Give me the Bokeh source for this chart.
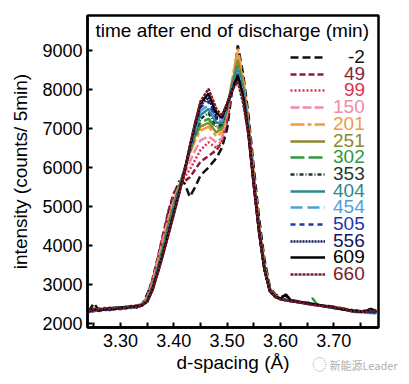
from bokeh.plotting import figure
from bokeh.models import (Range1d, FixedTicker, PrintfTickFormatter, Legend,
                          LegendItem, Label, Div)
from bokeh.layouts import column
from bokeh.embed import file_html
from bokeh.resources import INLINE

# d-spacing grid (Å)
d_spacing = [3.24, 3.25, 3.26, 3.27, 3.28, 3.29, 3.30, 3.31, 3.32, 3.33, 3.34,
             3.35, 3.36, 3.37, 3.38, 3.39, 3.40, 3.41, 3.42, 3.43, 3.44, 3.45,
             3.465,
             3.48, 3.49, 3.50, 3.51, 3.52, 3.53, 3.54, 3.55, 3.56, 3.57, 3.58, 3.59, 3.60,
             3.61, 3.62, 3.63, 3.64, 3.65, 3.66, 3.67, 3.68, 3.69, 3.70, 3.71, 3.72,
             3.73, 3.74, 3.75, 3.76, 3.77, 3.78]

times = ["-2", "49", "99", "150", "201", "251", "302", "353", "404", "454",
         "505", "556", "609", "660"]

i_m2 = [2310, 2520, 2330, 2380, 2350, 2400, 2370, 2420, 2400, 2450, 2480,
        2750, 3100, 3650, 4250, 4850, 5300, 5650, 5600, 5250, 5500, 5800,
        6000,
        6250, 6500, 7000, 8050, 9130, 8400, 7350, 6000, 4700, 3650, 2950, 2750, 2680,
        2720, 2600, 2580, 2560, 2530, 2500, 2480, 2460, 2450, 2430, 2410, 2380,
        2360, 2330, 2340, 2310, 2390, 2320]
i_49 = [2350, 2320, 2380, 2360, 2410, 2380, 2430, 2400, 2440, 2460, 2490,
        2700, 3150, 3700, 4300, 4900, 5350, 5550, 5650, 5750, 5950, 6150,
        6300,
        6450, 6650, 7200, 8100, 8900, 8250, 7150, 5800, 4500, 3500, 2900, 2720, 2640,
        2610, 2590, 2570, 2540, 2510, 2500, 2470, 2450, 2430, 2410, 2390, 2360,
        2340, 2320, 2310, 2330, 2320, 2300]
i_99 = [2320, 2360, 2340, 2390, 2350, 2410, 2390, 2420, 2430, 2470, 2500,
        2680, 3100, 3650, 4200, 4750, 5200, 5500, 5750, 5950, 6200, 6450,
        6650,
        6500, 6700, 7300, 8150, 8800, 8150, 7100, 5750, 4450, 3450, 2880, 2700, 2630,
        2600, 2590, 2560, 2550, 2520, 2490, 2480, 2450, 2440, 2420, 2380, 2370,
        2330, 2310, 2320, 2300, 2330, 2290]
i_150 = [2300, 2340, 2370, 2350, 2400, 2380, 2410, 2440, 2420, 2460, 2490,
         2650, 3050, 3600, 4150, 4700, 5150, 5550, 5850, 6150, 6450, 6700,
         6800,
         6650, 6750, 7400, 8200, 8850, 8200, 7100, 5700, 4450, 3450, 2880, 2710, 2640,
         2620, 2580, 2570, 2550, 2520, 2510, 2470, 2460, 2440, 2400, 2390, 2360,
         2340, 2320, 2300, 2320, 2310, 2300]
i_201 = [2340, 2310, 2360, 2400, 2370, 2390, 2420, 2400, 2450, 2440, 2480,
         2620, 3000, 3500, 4050, 4600, 5100, 5550, 5950, 6350, 6700, 6950,
         7050,
         6800, 6900, 7500, 8300, 9050, 8250, 7150, 5800, 4500, 3500, 2900, 2720, 2650,
         2620, 2600, 2570, 2540, 2530, 2500, 2480, 2470, 2440, 2420, 2400, 2370,
         2350, 2330, 2320, 2340, 2330, 2310]
i_251 = [2330, 2350, 2320, 2380, 2400, 2370, 2410, 2430, 2410, 2450, 2470,
         2600, 2980, 3450, 4000, 4550, 5050, 5500, 5950, 6400, 6800, 7050,
         7150,
         6900, 7000, 7500, 8200, 8750, 8100, 7050, 5700, 4450, 3450, 2880, 2700, 2640,
         2610, 2590, 2560, 2550, 2510, 2500, 2480, 2450, 2430, 2410, 2400, 2370,
         2340, 2320, 2310, 2300, 2320, 2300]
i_302 = [2300, 2370, 2340, 2360, 2390, 2410, 2380, 2420, 2440, 2430, 2470,
         2600, 2950, 3420, 3950, 4500, 5000, 5480, 5950, 6450, 6850, 7150,
         7250,
         7000, 7050, 7550, 8150, 8600, 8000, 7000, 5650, 4400, 3400, 2860, 2690, 2630,
         2600, 2580, 2560, 2540, 2520, 2650, 2470, 2450, 2440, 2400, 2380, 2360,
         2330, 2310, 2300, 2310, 2300, 2290]
i_353 = [2320, 2340, 2380, 2350, 2370, 2400, 2420, 2390, 2430, 2450, 2460,
         2590, 2930, 3400, 3900, 4450, 4950, 5450, 5950, 6450, 6900, 7250,
         7400,
         7050, 7100, 7550, 8100, 8450, 7950, 6950, 5600, 4380, 3400, 2850, 2690, 2630,
         2600, 2570, 2560, 2530, 2520, 2490, 2480, 2450, 2430, 2410, 2390, 2360,
         2330, 2310, 2320, 2300, 2310, 2290]
i_404 = [2310, 2360, 2330, 2390, 2360, 2380, 2400, 2410, 2440, 2420, 2460,
         2580, 2920, 3380, 3880, 4400, 4920, 5420, 5930, 6480, 6950, 7350,
         7500,
         7150, 7150, 7600, 8100, 8500, 7950, 6950, 5600, 4380, 3400, 2850, 2700, 2640,
         2610, 2580, 2560, 2550, 2510, 2500, 2490, 2450, 2420, 2410, 2380, 2370,
         2330, 2310, 2300, 2310, 2290, 2280]
i_454 = [2290, 2340, 2360, 2330, 2380, 2400, 2390, 2430, 2410, 2450, 2470,
         2580, 2900, 3360, 3860, 4380, 4900, 5400, 5920, 6500, 7000, 7450,
         7600,
         7200, 7200, 7600, 8050, 8450, 7900, 6900, 5580, 4360, 3400, 2850, 2690, 2630,
         2600, 2580, 2550, 2540, 2520, 2490, 2470, 2460, 2430, 2400, 2390, 2350,
         2330, 2300, 2290, 2280, 2270, 2260]
i_505 = [2330, 2310, 2350, 2370, 2350, 2390, 2410, 2400, 2420, 2440, 2480,
         2570, 2890, 3350, 3840, 4350, 4870, 5380, 5900, 6500, 7050, 7550,
         7700,
         7250, 7250, 7600, 8050, 8400, 7850, 6900, 5580, 4350, 3400, 2850, 2690, 2630,
         2600, 2570, 2560, 2540, 2510, 2500, 2480, 2450, 2430, 2410, 2380, 2360,
         2340, 2310, 2300, 2310, 2300, 2280]
i_556 = [2310, 2350, 2330, 2380, 2360, 2380, 2400, 2420, 2430, 2410, 2460,
         2570, 2880, 3330, 3820, 4330, 4850, 5360, 5900, 6520, 7100, 7600,
         7800,
         7300, 7280, 7620, 8000, 8350, 7850, 6900, 5560, 4340, 3380, 2840, 2690, 2630,
         2600, 2580, 2550, 2540, 2520, 2490, 2470, 2450, 2430, 2400, 2390, 2360,
         2330, 2310, 2300, 2300, 2290, 2280]
i_609 = [2320, 2370, 2340, 2360, 2390, 2370, 2410, 2400, 2440, 2450, 2470,
         2560, 2870, 3320, 3800, 4300, 4820, 5350, 5890, 6540, 7120, 7650,
         7900,
         7400, 7300, 7630, 8000, 8350, 7800, 6850, 5550, 4330, 3380, 2840, 2690, 2640,
         2750, 2590, 2570, 2550, 2520, 2500, 2480, 2460, 2440, 2420, 2380, 2360,
         2340, 2320, 2310, 2320, 2380, 2300]
i_660 = [2330, 2380, 2350, 2400, 2370, 2420, 2380, 2410, 2450, 2420, 2480,
         2560, 2850, 3300, 3780, 4280, 4800, 5330, 5880, 6550, 7150, 7700,
         8020,
         7500, 7330, 7650, 8000, 8200, 7650, 6850, 5550, 4350, 3400, 2850, 2680, 2620,
         2600, 2580, 2560, 2540, 2500, 2480, 2460, 2450, 2430, 2420, 2400, 2380,
         2330, 2300, 2320, 2300, 2340, 2310]

x_ticks = [3.30, 3.40, 3.50, 3.60, 3.70]
x_minor = [3.25, 3.35, 3.45, 3.55, 3.65, 3.75]
y_ticks = [2000, 3000, 4000, 5000, 6000, 7000, 8000, 9000]

series = [i_m2, i_49, i_99, i_150, i_201, i_251, i_302, i_353, i_404, i_454,
          i_505, i_556, i_609, i_660]
colors = ["#111111", "#8c1c3c", "#e0324e", "#f08ca4", "#f29a42", "#8a8a2c",
          "#2f9a3c", "#1e3a28", "#2a8a8a", "#4ea0dc", "#2634a8", "#10165a",
          "#000000", "#7a1a28"]
dashes = ["8 4", "6 3", "2 2", "9 3", "14 3 4 3", "solid", "14 4", "4 2 1 2",
          "solid", "12 5", "5 4", "2 1", "solid", "3 1"]

FONT = "Liberation Sans"

p = figure(output_backend="svg", toolbar_location=None,
           x_range=Range1d(3.238, 3.784), y_range=Range1d(1900, 9900),
           frame_width=291, frame_height=312,
           min_border_left=87, min_border_right=25, min_border_top=15,
           min_border_bottom=51)
p.xgrid.visible = False
p.ygrid.visible = False
p.outline_line_color = "black"
p.outline_line_width = 2.5
p.background_fill_color = "white"
p.border_fill_color = "white"

renderers = []
for ys, c, d in zip(series, colors, dashes):
    r = p.line(d_spacing, ys, line_color=c, line_width=2.5, line_dash=d)
    renderers.append(r)

for ax in (p.xaxis[0], p.yaxis[0]):
    ax.axis_line_width = 2.5
    ax.major_tick_in = 5
    ax.major_tick_out = 0
    ax.minor_tick_in = 5
    ax.minor_tick_out = 0
    ax.major_tick_line_width = 2
    ax.minor_tick_line_width = 2
    ax.major_label_text_font = FONT
    ax.major_label_text_font_size = "18px"
    ax.major_label_text_color = "black"
    ax.axis_label_text_font = FONT
    ax.axis_label_text_font_size = "19px"
    ax.axis_label_text_font_style = "normal"
    ax.axis_label_text_color = "black"

p.xaxis.ticker = FixedTicker(ticks=x_ticks, minor_ticks=x_minor)
p.xaxis.formatter = PrintfTickFormatter(format="%.2f")
p.xaxis.axis_label = "d-spacing (Å)"
p.xaxis.major_label_standoff = 6
p.xaxis.axis_label_standoff = 2
p.yaxis.ticker = FixedTicker(ticks=y_ticks)
p.yaxis.formatter = PrintfTickFormatter(format="%d")
p.yaxis.axis_label = "intensity (counts/ 5min)"
p.yaxis.major_label_standoff = 5
p.yaxis.axis_label_standoff = 8

# legend: one per entry so each label has its own colour; labels right-aligned
def text_w(s):
    return sum(6.33 if ch == "-" else 10.57 for ch in s)

for k, (t, c, r) in enumerate(zip(times, colors, renderers)):
    center = 57 + k * 16.7 - 15  # from frame top
    leg = Legend(items=[LegendItem(label=t, renderers=[r])],
                 location=(203, 312 - center - 11), padding=0, margin=0,
                 spacing=0, glyph_width=35, glyph_height=16,
                 label_standoff=int(round(40 - text_w(t))),
                 label_text_font=FONT, label_text_font_size="19px",
                 label_text_color=c,
                 background_fill_alpha=0, border_line_alpha=0)
    p.add_layout(leg)

p.add_layout(Label(x=3.253, y=9510, text="time after end of discharge (min)",
                   text_font=FONT, text_font_size="19px", text_color="black",
                   text_baseline="middle", text_align="left"))

watermark = Div(text='<span style="font-size:15px">&#9676;</span> 新能源Leader',
                width=95, height=16, margin=(-22, 0, 0, 312),
                styles={"color": "#b0b0b0", "font-size": "11px",
                        "font-family": "Noto Sans CJK SC", "white-space": "nowrap",
                        "line-height": "16px"})

layout = column(p, watermark, spacing=0)
open("out.html", "w").write(file_html(layout, INLINE))
